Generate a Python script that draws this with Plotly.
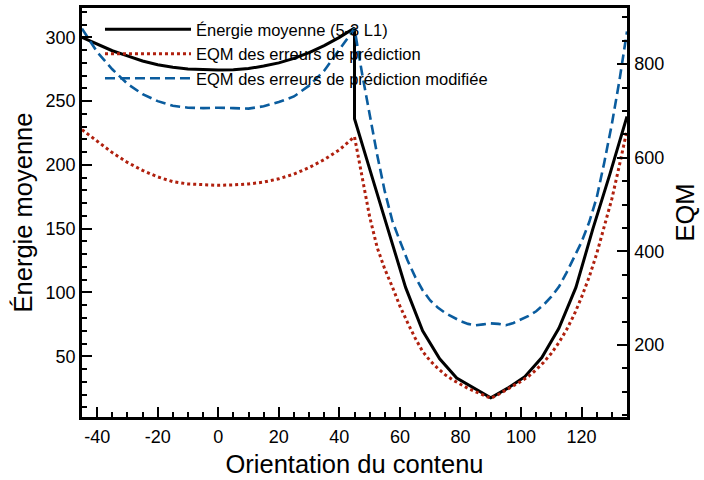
import plotly.graph_objects as go

# ---- data ----
x_energy = [-45, -40, -35, -30, -25, -20, -15, -10, -5, 0, 5, 10, 15, 20, 25, 30, 35, 40, 45,
            45, 50.625, 56.25, 61.875, 67.5, 73.125, 78.75, 84.375, 90,
            95.625, 101.25, 106.875, 112.5, 118.125, 123.75, 129.375, 135]
energy = [300, 294.5, 289.5, 285.5, 281.5, 278.5, 276.5, 275.2, 274.6, 274.4, 274.6, 275.5, 277.5, 280,
          283.5, 288, 293.5, 300, 307.4,
          236.2, 192, 148, 104, 70, 48, 33, 25, 17.5,
          25, 34, 49, 72, 104, 150, 193, 238]

x_eqm_left = [-45, -40, -35, -30, -25, -20, -15, -10, -5, 0, 5, 10, 15, 20, 25, 30, 35, 40, 45]
x_eqm_right = [47.5, 50, 52.5, 55, 57.5, 60, 62.5, 65, 67.5, 70, 72.5, 75, 77.5, 80, 82.5, 85, 87.5, 90,
               92.5, 95, 97.5, 100, 102.5, 105, 107.5, 110, 112.5, 115, 117.5, 120, 122.5, 125,
               127.5, 130, 132.5, 135]
x_eqm = x_eqm_left + x_eqm_right

eqm = [660, 635, 611, 590, 573, 559, 549, 544, 542, 541, 542, 544, 548, 555, 565, 579, 596, 617, 645,
       560, 474, 408, 362, 324, 283, 248, 215, 186, 166, 150, 136, 125, 116, 107, 100, 93, 86,
       94, 104, 113, 122, 133, 147, 163, 182, 205, 232, 264, 302, 345, 395, 452, 512, 584, 659]

eqm_mod = [876, 826, 789, 758, 736, 721, 711, 707, 706, 707, 706, 705, 710, 719, 731, 754, 786, 832, 876,
           780, 690, 606, 528, 465, 422, 381, 346, 317, 295, 280, 268, 259, 251, 245, 242, 244, 246,
           245, 242, 247, 254, 262, 272, 286, 303, 324, 354, 388, 420, 462, 515, 590, 672, 765, 870]

names = ["Énergie moyenne (5-3 L1)", "EQM des erreurs de prédiction",
         "EQM des erreurs de prédiction modifiée"]

x_ticks = [-40, -20, 0, 20, 40, 60, 80, 100, 120]
x_ticktext = ["-40", "-20", "0", "20", "40", "60", "80", "100", "120"]
y_ticks = [50, 100, 150, 200, 250, 300]
y2_ticks = [200, 400, 600, 800]

FONT = "Liberation Sans, Arial, Helvetica, sans-serif"
TITLE_FONT = dict(size=25.5, color="black", family=FONT)

fig = go.Figure()
fig.add_trace(go.Scatter(x=x_energy, y=energy, mode="lines", name=names[0],
                         line=dict(color="black", width=3)))
fig.add_trace(go.Scatter(x=x_eqm, y=eqm, mode="lines", name=names[1], yaxis="y2",
                         line=dict(color="#b0200e", width=3, dash="3px,3px")))
fig.add_trace(go.Scatter(x=x_eqm, y=eqm_mod, mode="lines", name=names[2], yaxis="y2",
                         line=dict(color="#0a5c9e", width=2.6, dash="10px,5px")))

axis_common = dict(showline=True, linecolor="black", linewidth=2.5, ticks="inside",
                   tickcolor="black", tickwidth=2, ticklen=10, showgrid=False, zeroline=False,
                   automargin=False,
                   tickfont=dict(size=18, color="black", family=FONT))

fig.update_layout(
    width=704, height=480,
    margin=dict(l=81.5, r=77, t=8, b=63, autoexpand=False),
    paper_bgcolor="white", plot_bgcolor="white",
    font=dict(family=FONT, color="black"),
    showlegend=True,
    legend=dict(x=0.033, y=0.99, xanchor="left", yanchor="top",
                bgcolor="rgba(0,0,0,0)", borderwidth=0,
                font=dict(size=16.5, color="black", family=FONT),
                itemwidth=86, tracegroupgap=0),
    xaxis=dict(range=[-45, 135], tickvals=x_ticks, ticktext=x_ticktext, mirror=True,
               minor=dict(dtick=5, ticks="inside", ticklen=5, tickwidth=1.5, tickcolor="black"),
               title=dict(text="Orientation du contenu", font=TITLE_FONT, standoff=9),
               ticklabelstandoff=2,
               **axis_common),
    yaxis=dict(range=[2.4, 323], tickvals=y_ticks,
               minor=dict(dtick=10, ticks="inside", ticklen=5, tickwidth=1.5, tickcolor="black"),
               title=dict(text="Énergie moyenne", font=TITLE_FONT, standoff=6),
               ticklabelstandoff=0,
               **axis_common),
    yaxis2=dict(range=[46, 920], tickvals=y2_ticks, overlaying="y", side="right",
                minor=dict(dtick=50, ticks="inside", ticklen=5, tickwidth=1.5, tickcolor="black"),
                title=dict(text="EQM", font=TITLE_FONT, standoff=13),
                ticklabelstandoff=1,
                **axis_common),
)

fig.write_html("out.html", config={"displayModeBar": False},
               post_script="document.body.style.margin='0px';")
